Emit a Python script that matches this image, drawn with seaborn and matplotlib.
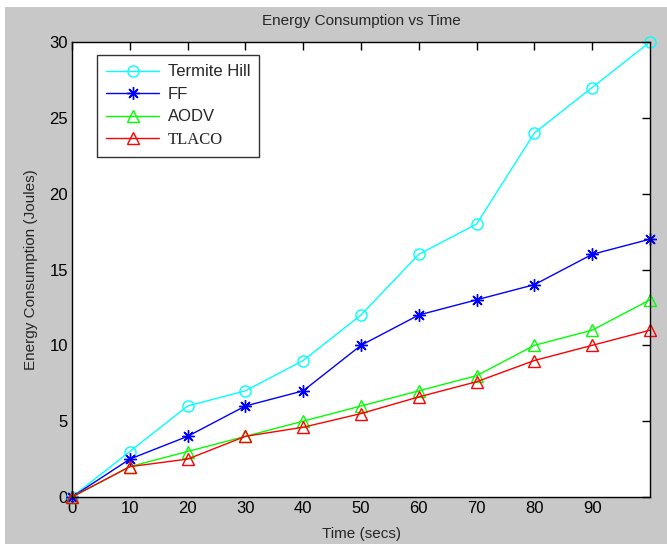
import matplotlib
matplotlib.use("Agg")
import matplotlib.pyplot as plt
import seaborn as sns
import pandas as pd
from matplotlib.font_manager import FontProperties
from matplotlib.patches import Rectangle

time = [0, 10, 20, 30, 40, 50, 60, 70, 80, 90, 100]
termite_hill = [0, 3, 6, 7, 9, 12, 16, 18, 24, 27, 30]
ff = [0, 2.5, 4, 6, 7, 10, 12, 13, 14, 16, 17]
aodv = [0, 2, 3, 4, 5, 6, 7, 8, 10, 11, 13]
tlaco = [0, 2, 2.5, 4, 4.6, 5.5, 6.6, 7.6, 9, 10, 11]
series_names = ["Termite Hill", "FF", "AODV", "TLACO"]
xtick_vals = [0, 10, 20, 30, 40, 50, 60, 70, 80, 90]
ytick_vals = [0, 5, 10, 15, 20, 25, 30]

sns.set_style("white")
plt.rcParams['font.family'] = ['Liberation Sans', 'DejaVu Sans']

df = pd.DataFrame({"t": time * 4,
                   "v": termite_hill + ff + aodv + tlaco,
                   "s": sum([[n] * len(time) for n in series_names], [])})

W, H = 667, 544
fig = plt.figure(figsize=(W / 100, H / 100), dpi=100, facecolor="#c8c8c8")
# white strips along top and left edges of the screenshot
fig.patches.append(Rectangle((0, 1 - 7 / H), 1, 7 / H, transform=fig.transFigure,
                             facecolor="white", edgecolor="none", zorder=-1))
fig.patches.append(Rectangle((0, 0), 5 / W, 1, transform=fig.transFigure,
                             facecolor="white", edgecolor="none", zorder=-1))

ax = fig.add_axes([72 / W, 1 - 497 / H, (650 - 72) / W, (497 - 42) / H])
ax.set_facecolor("white")

styles = {
    "Termite Hill": dict(color="#00ffff", marker="o", ms=8),
    "FF": dict(color="#0000ff", marker=(8, 2, 0), ms=9),
    "AODV": dict(color="#00ff00", marker="^", ms=9),
    "TLACO": dict(color="#ff0000", marker="^", ms=9),
}
for name in series_names:
    st = styles[name]
    sub = df[df.s == name]
    sns.lineplot(data=sub, x="t", y="v", ax=ax, color=st["color"], marker=st["marker"],
                 markersize=st["ms"], markerfacecolor="none", markeredgecolor=st["color"],
                 markeredgewidth=1.0, linewidth=1.0, label=name, clip_on=False)

ax.set_xlim(0, 100)
ax.set_ylim(0, 30)
ax.set_xticks(xtick_vals)
ax.set_yticks(ytick_vals)
ax.set_xticklabels([str(v) for v in xtick_vals])
ax.set_yticklabels([str(v) for v in ytick_vals])
ax.tick_params(direction="in", length=6, width=1, top=True, right=True,
               labelsize=12, colors="black", pad=3)
for sp in ax.spines.values():
    sp.set_visible(True)
    sp.set_color("black")
    sp.set_linewidth(1.0)

ax.set_title("Energy Consumption vs Time", fontsize=11, pad=12)
ax.set_xlabel("Time (secs)", fontsize=11, labelpad=8)
ax.set_ylabel("Energy Consumption (Joules)", fontsize=11, labelpad=8)

leg = ax.legend(loc="upper left", bbox_to_anchor=(0.043, 0.971), fontsize=12,
                handlelength=3.2, frameon=True, fancybox=False, borderpad=0.55,
                labelspacing=0.45, handletextpad=0.5, borderaxespad=0)
leg.get_frame().set_edgecolor("black")
leg.get_frame().set_linewidth(1.0)
for t in leg.get_texts():
    if t.get_text() == "TLACO":
        t.set_fontproperties(FontProperties(family="Liberation Serif", size=12))

fig.savefig("out.png", dpi=100, facecolor=fig.get_facecolor())
